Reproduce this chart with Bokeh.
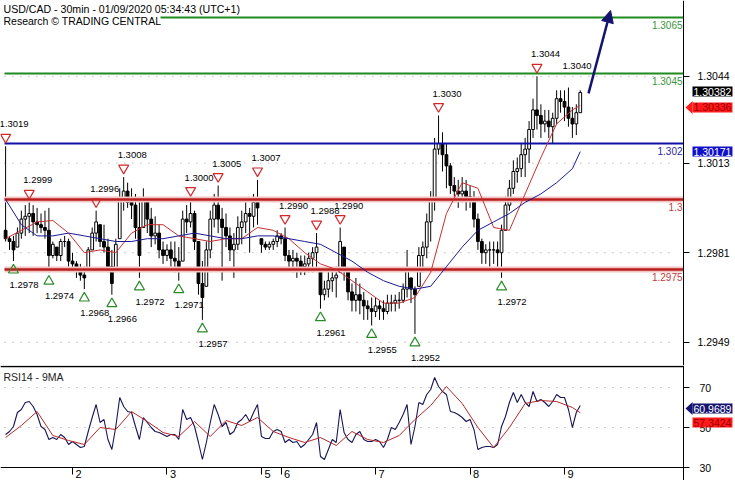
from bokeh.plotting import figure
from bokeh.layouts import column
from bokeh.models import (Range1d, FixedTicker, PrintfTickFormatter, Label, Arrow,
                          NormalHead, PolyAnnotation, ColumnDataSource, LinearAxis)
from bokeh.core.properties import value
from bokeh.embed import file_html
from bokeh.resources import INLINE

FONT = "Liberation Sans"

# ---------------- data (hourly bars) ----------------
first_open = 1.2989
highs = [
    1.3019, 1.2987, 1.2987, 1.2990, 1.2996, 1.2998, 1.2999, 1.2998, 1.2997, 1.2995,
    1.2996, 1.2997, 1.2985, 1.2983, 1.2986, 1.2987, 1.2986, 1.2981, 1.2978, 1.2977,
    1.2976, 1.2983, 1.2990, 1.2996, 1.2991, 1.2991, 1.2986, 1.2982, 1.2986, 1.3004,
    1.3008, 1.3006, 1.3004, 1.3002, 1.2999, 1.3004, 1.3000, 1.2997, 1.2994, 1.2991,
    1.2985, 1.2984, 1.2985, 1.2985, 1.2983, 1.2996, 1.2998, 1.3000, 1.2996, 1.2985,
    1.2978, 1.2985, 1.2996, 1.3002, 1.3005, 1.2997, 1.2995, 1.2990, 1.2988, 1.2994,
    1.2996, 1.2999, 1.2997, 1.3002, 1.3007, 1.2986, 1.2985, 1.2985, 1.2986, 1.2989,
    1.2988, 1.2990, 1.2982, 1.2982, 1.2981, 1.2980, 1.2980, 1.2981, 1.2983, 1.2988,
    1.2975, 1.2971, 1.2975, 1.2975, 1.2976, 1.2990, 1.2983, 1.2975, 1.2970, 1.2972,
    1.2970, 1.2967, 1.2964, 1.2965, 1.2965, 1.2964, 1.2964, 1.2966, 1.2966, 1.2966,
    1.2967, 1.2970, 1.2982, 1.2972, 1.2969, 1.2983, 1.2985, 1.2995, 1.3003, 1.3022,
    1.3030, 1.3024, 1.3020, 1.3013, 1.3008, 1.3007, 1.3008, 1.3007, 1.3005, 1.3003,
    1.2995, 1.2986, 1.2984, 1.2985, 1.2985, 1.2985, 1.2991, 1.3001, 1.3007, 1.3014,
    1.3015, 1.3020, 1.3022, 1.3028, 1.3036, 1.3044, 1.3034, 1.3032, 1.3032, 1.3031,
    1.3039, 1.3039, 1.3039, 1.3040, 1.3033, 1.3034, 1.3039,
]
lows = [
    1.2985, 1.2982, 1.2978, 1.2983, 1.2986, 1.2987, 1.2988, 1.2987, 1.2988, 1.2988,
    1.2986, 1.2974, 1.2979, 1.2978, 1.2978, 1.2983, 1.2976, 1.2975, 1.2972, 1.2971,
    1.2968, 1.2975, 1.2982, 1.2985, 1.2983, 1.2981, 1.2974, 1.2966, 1.2975, 1.2986,
    1.2996, 1.2997, 1.2993, 1.2986, 1.2972, 1.2990, 1.2988, 1.2983, 1.2984, 1.2979,
    1.2977, 1.2978, 1.2976, 1.2974, 1.2971, 1.2978, 1.2988, 1.2990, 1.2982, 1.2966,
    1.2957, 1.2969, 1.2979, 1.2990, 1.2988, 1.2971, 1.2983, 1.2978, 1.2972, 1.2982,
    1.2984, 1.2988, 1.2981, 1.2990, 1.2991, 1.2981, 1.2982, 1.2982, 1.2982, 1.2983,
    1.2984, 1.2978, 1.2975, 1.2974, 1.2972, 1.2973, 1.2973, 1.2974, 1.2974, 1.2975,
    1.2961, 1.2964, 1.2965, 1.2967, 1.2965, 1.2974, 1.2971, 1.2964, 1.2960, 1.2960,
    1.2959, 1.2957, 1.2957, 1.2955, 1.2958, 1.2957, 1.2957, 1.2959, 1.2960, 1.2960,
    1.2961, 1.2963, 1.2965, 1.2963, 1.2952, 1.2969, 1.2974, 1.2979, 1.2985, 1.2996,
    1.3016, 1.3010, 1.3004, 1.3002, 1.2999, 1.2997, 1.2999, 1.2996, 1.2997, 1.2990,
    1.2982, 1.2977, 1.2977, 1.2976, 1.2977, 1.2976, 1.2972, 1.2989, 1.2996, 1.3002,
    1.3006, 1.3008, 1.3008, 1.3013, 1.3022, 1.3025, 1.3022, 1.3024, 1.3022, 1.3020,
    1.3027, 1.3031, 1.3028, 1.3026, 1.3022, 1.3023, 1.3031,
]
closes = [
    1.2986, 1.2985, 1.2982, 1.2988, 1.2993, 1.2994, 1.2995, 1.2992, 1.2991, 1.2990,
    1.2989, 1.2980, 1.2984, 1.2980, 1.2985, 1.2985, 1.2978, 1.2977, 1.2975, 1.2973,
    1.2972, 1.2982, 1.2988, 1.2992, 1.2985, 1.2983, 1.2976, 1.2970, 1.2984, 1.3000,
    1.3003, 1.2999, 1.2998, 1.2990, 1.2980, 1.3000, 1.2993, 1.2987, 1.2988, 1.2982,
    1.2980, 1.2982, 1.2979, 1.2978, 1.2976, 1.2993, 1.2992, 1.2995, 1.2985, 1.2970,
    1.2965, 1.2982, 1.2993, 1.2998, 1.2993, 1.2990, 1.2987, 1.2982, 1.2984, 1.2990,
    1.2992, 1.2995, 1.2994, 1.2999, 1.2997, 1.2984, 1.2983, 1.2984, 1.2985, 1.2987,
    1.2986, 1.2980, 1.2978, 1.2979, 1.2978, 1.2976, 1.2977, 1.2979, 1.2981, 1.2983,
    1.2966, 1.2968, 1.2971, 1.2972, 1.2973, 1.2985, 1.2975, 1.2967, 1.2964, 1.2966,
    1.2964, 1.2962, 1.2961, 1.2960, 1.2962, 1.2961, 1.2960, 1.2963, 1.2963, 1.2964,
    1.2964, 1.2968, 1.2975, 1.2968, 1.2966, 1.2980, 1.2983, 1.2992, 1.3000, 1.3018,
    1.3020, 1.3016, 1.3012, 1.3005, 1.3003, 1.3002, 1.3003, 1.3001, 1.3000, 1.2993,
    1.2985, 1.2981, 1.2982, 1.2982, 1.2982, 1.2981, 1.2989, 1.2998, 1.3004, 1.3010,
    1.3011, 1.3016, 1.3018, 1.3025, 1.3032, 1.3030, 1.3027, 1.3028, 1.3026, 1.3029,
    1.3036, 1.3035, 1.3033, 1.3029, 1.3027, 1.3031, 1.30382,
]
rsi = [
    46.5, 48, 50.5, 57.5, 59, 62.5, 63, 60.5, 56.5, 50.5,
    49, 44, 45, 44, 46.5, 45, 41.5, 43, 41.5, 40,
    40.5, 48, 55, 61.5, 52.5, 54, 44, 39, 50.5, 65,
    60.5, 58, 57.5, 50.5, 44, 55, 52.5, 50, 48, 47.5,
    46.5, 45.5, 46.5, 46.5, 44, 59, 54, 55, 50.5, 42.5,
    34, 42.5, 52.5, 61.5, 56.5, 50.5, 52.5, 46.5, 48, 52.5,
    54, 56.5, 53, 57.5, 61.5, 45.5, 44.5, 44.5, 48, 49,
    48, 42.5, 44, 42.5, 43, 40, 41.5, 44, 46.5, 52.5,
    35.5, 34, 39, 44, 42.5, 59, 47.5, 44, 42.5, 46.5,
    48, 44, 43, 43, 44, 43, 40, 44, 50, 49,
    52.5, 56.5, 61.5, 41.5, 50.5, 62.5, 61.5, 66.5, 69, 75,
    70.5, 68, 66.5, 58, 57.5, 56.5, 55, 53, 54, 49,
    39, 40, 40.5, 40.5, 40, 41.5, 50.5, 55.5, 62.5, 67.5,
    62.5, 66.5, 62.5, 60.5, 68, 63, 64, 62.5, 60.5, 63,
    66.5, 65, 65, 59, 50, 57.5, 60.9689,
]
ma_bars = [0, 4, 8, 12, 16, 20, 24, 28, 32, 36, 40, 44, 48, 52, 56, 60, 64, 68, 72,
           76, 80, 84, 88, 92, 96, 100, 104, 108, 112, 116, 120, 124, 128, 132, 136,
           140, 144, 146]
ma_fast = [1.2986, 1.2989, 1.2992, 1.29925, 1.2988, 1.2981, 1.2982, 1.2981, 1.2988,
           1.2991, 1.2991, 1.2987, 1.2986, 1.2985, 1.2986, 1.2986, 1.2990, 1.2989,
           1.2986, 1.2981, 1.2977, 1.2975, 1.2971, 1.2967, 1.2963, 1.2963, 1.2965,
           1.2974, 1.2995, 1.3006, 1.3004, 1.2990, 1.2989, 1.3002, 1.3015, 1.3027,
           1.3032, 1.30336]
ma_slow = [1.3000, 1.2991, 1.2987, 1.2987, 1.2988, 1.2987, 1.2986, 1.2985, 1.2985,
           1.2986, 1.2986, 1.2987, 1.2988, 1.2987, 1.2986, 1.2986, 1.2987, 1.2987,
           1.2986, 1.2985, 1.2984, 1.2981, 1.2978, 1.2974, 1.2971, 1.2969, 1.2968,
           1.2969, 1.2976, 1.2983, 1.2989, 1.2992, 1.2995, 1.2999, 1.3002, 1.3006,
           1.3011, 1.30171]
rsi_ma = [45, 51, 58, 46, 43.5, 41.5, 50, 49, 58, 53, 47.5, 45.5, 53, 45.5, 53.5, 51,
          55, 48, 45, 42.5, 45, 41, 48, 44, 42.5, 46, 54, 61, 70.5, 62, 50, 40, 50,
          62, 63.5, 63, 60, 57.3424]

level_prices = [1.3065, 1.3045, 1.302, 1.3, 1.2975]
level_texts = ["1.3065", "1.3045", "1.302", "1.3", "1.2975"]
level_kinds = ["green", "green", "blue", "red", "red"]

peak_bars = [0, 6, 23, 30, 47, 54, 64, 71, 79, 85, 110, 135]
trough_bars = [2, 11, 20, 27, 34, 44, 50, 80, 93, 104, 126]
open_peak_bar = 143

arrow_x = [148.1, 153.7]
arrow_y = [1.30379, 1.30675]

price_ticks = [1.2949, 1.2981, 1.3013, 1.3044]
rsi_ticks = [30, 50, 70]
rsi_grid = [50, 70]
day_ticks = [17, 41, 65, 70, 94, 118, 142]
day_labels = ["2", "3", "5", "6", "7", "8", "9"]

title_text = "USD/CAD - 30min - 01/09/2020 05:34:43 (UTC+1)"
research_text = "Research \u00a9 TRADING CENTRAL"
rsi_title = "RSI14 - 9MA"

# ---------------- geometry (canvas = 735 x 480) ----------------
W = 735
PH, RH = 365, 115
ppb = 3.936                      # px per hourly bar
X0 = -5.1 / ppb
X_END = X0 + W / ppb
X_AX = X0 + 683 / ppb            # where the price scale sits
ppp = 28000.0                    # px per price unit
P1 = 1.3 + 199 / ppp
P0 = P1 - PH / ppp
ppr = 2.0                        # px per RSI unit
R_AX = 30.0                      # RSI value on the time axis line
R1 = R_AX + 102 / ppr
R0 = R1 - RH / ppr

NAVY = "#14146e"
COL = {"green": "#1e8c1e", "blue": "#1010a8", "red": "#b81e1e"}
TXT = {"green": "#3a963a", "blue": "#2a2aa0", "red": "#c23a3a"}
GRID = "#9a9a9a"


def base_fig(h, yr, xr):
    f = figure(frame_width=W, frame_height=h, x_range=xr, y_range=yr,
               output_backend="svg", toolbar_location=None,
               x_axis_location=None, y_axis_location=None,
               min_border_left=0, min_border_right=0, min_border_top=0,
               min_border_bottom=0)
    f.outline_line_color = None
    f.grid.visible = False
    return f


def style_axis(a, size):
    a.axis_line_color = "black"
    a.major_tick_in = 0
    a.minor_tick_out = 0
    a.minor_tick_in = 0
    a.major_label_text_font = FONT
    a.major_label_text_font_size = size
    a.major_label_text_color = "black"


p = base_fig(PH, Range1d(P0, P1), Range1d(X0, X_END))
ax = LinearAxis(fixed_location=X_AX, ticker=FixedTicker(ticks=price_ticks),
                formatter=PrintfTickFormatter(format="%.4f"))
style_axis(ax, "10.5px")
ax.major_tick_out = 6
ax.major_label_standoff = 8
p.add_layout(ax, "right")

# dotted grid up to the price scale
p.segment(x0=[X0 + 1] * len(price_ticks), y0=price_ticks, x1=[X_AX - 2] * len(price_ticks),
          y1=price_ticks, line_color=GRID, line_dash="1 7", line_width=1)

# candles
opens = []
prev = first_open
for h, l, c in zip(highs, lows, closes):
    opens.append(min(max(prev, l), h))
    prev = c
bars = list(range(len(closes)))
src = ColumnDataSource(dict(
    x=bars, h=highs, l=lows,
    top=[max(o, c) for o, c in zip(opens, closes)],
    bottom=[min(o, c) for o, c in zip(opens, closes)],
    fill=["white" if c >= o else "black" for o, c in zip(opens, closes)],
))
p.segment(x0="x", y0="l", x1="x", y1="h", source=src, line_color="black", line_width=1)
p.vbar(x="x", width=0.7, top="top", bottom="bottom", source=src,
       fill_color="fill", line_color="black", line_width=1)

# horizontal levels
for lv, kind in zip(level_prices, level_kinds):
    x_start = X0 + (160 / ppb if lv == max(level_prices) else 4 / ppb)
    if kind == "red":
        p.segment(x0=[x_start], y0=[lv], x1=[X_AX], y1=[lv], line_color="#f3c4c4", line_width=6)
        p.segment(x0=[x_start], y0=[lv], x1=[X_AX], y1=[lv], line_color=COL[kind], line_width=2.5)
    else:
        p.segment(x0=[x_start], y0=[lv], x1=[X_AX], y1=[lv], line_color=COL[kind], line_width=2)
p.text(x=[X_AX] * len(level_prices), y=level_prices, text=level_texts,
       text_color=[TXT[k] for k in level_kinds], text_align="right", text_baseline="top",
       x_offset=-1, y_offset=3, text_font=value(FONT), text_font_size="10px")

# moving averages
p.line(ma_bars, ma_fast, line_color="#c83030", line_width=1)
p.line(ma_bars, ma_slow, line_color="#1a1a96", line_width=1)

# peaks / troughs
pk_y = [highs[b] for b in peak_bars]
p.scatter(peak_bars, [y + 9 / ppp for y in pk_y], marker="inverted_triangle", size=10,
          line_color="#d02828", fill_color=None, line_width=1.2)
p.text(x=peak_bars + [open_peak_bar], y=pk_y + [highs[open_peak_bar]],
       text=[f"{y:.4f}" for y in pk_y + [highs[open_peak_bar]]],
       text_align="left", text_baseline="middle", x_offset=-6, y_offset=-22,
       text_font=value(FONT), text_font_size="9.5px", text_color="black")
tr_y = [lows[b] for b in trough_bars]
p.scatter(trough_bars, [y - 9 / ppp for y in tr_y], marker="triangle", size=10,
          line_color="#2a8a2a", fill_color=None, line_width=1.2)
p.text(x=trough_bars, y=tr_y, text=[f"{y:.4f}" for y in tr_y],
       text_align="left", text_baseline="middle", x_offset=-4, y_offset=24,
       text_font=value(FONT), text_font_size="9.5px", text_color="black")

# forecast arrow
p.add_layout(Arrow(end=NormalHead(size=12, fill_color=NAVY, line_color=NAVY),
                   x_start=arrow_x[0], y_start=arrow_y[0], x_end=arrow_x[1], y_end=arrow_y[1],
                   line_color=NAVY, line_width=2.5))

# header texts
p.text(x=[X0], y=[P1], text=[title_text], x_offset=3, y_offset=2, text_baseline="top",
       text_font=value(FONT), text_font_size="10.6px", text_color="black")
p.text(x=[X0], y=[P1], text=[research_text], x_offset=3, y_offset=14, text_baseline="top",
       text_font=value(FONT), text_font_size="10.5px", text_color="black")


def axis_box(fig, y, text, bg, fg, unit_px, pointer):
    fig.add_layout(Label(x=X_AX, y=y, text=text, x_offset=9, text_baseline="middle",
                         text_align="left", text_font=FONT, text_font_size="10.5px",
                         text_color=fg, background_fill_color=bg, padding=1))
    if pointer:
        h = 6.5 / unit_px
        fig.add_layout(PolyAnnotation(xs=[X_AX + 2 / ppb, X_AX + 9 / ppb, X_AX + 9 / ppb],
                                      ys=[y, y + h, y - h], fill_color=bg, fill_alpha=1,
                                      line_color=None))


axis_box(p, closes[-1] + 1 / ppp, f"{closes[-1]:.5f}", "black", "white", ppp, False)
axis_box(p, ma_fast[-1] - 2 / ppp, f"{ma_fast[-1]:.5f}", "#ff1a1a", "#9a0000", ppp, True)
axis_box(p, ma_slow[-1], f"{ma_slow[-1]:.5f}", "#1010c8", "white", ppp, False)

# ---------------- RSI panel ----------------
p2 = base_fig(RH, Range1d(R0, R1), p.x_range)
ay = LinearAxis(fixed_location=X_AX, ticker=FixedTicker(ticks=rsi_ticks))
style_axis(ay, "10.5px")
ay.major_tick_out = 6
ay.major_label_standoff = 10
p2.add_layout(ay, "right")

# time axis: day boundaries as (minor) tick marks, day numbers just right of them
lbl_shift = 6 / ppb
axx = LinearAxis(fixed_location=R_AX,
                 ticker=FixedTicker(ticks=[t + lbl_shift for t in day_ticks],
                                    minor_ticks=day_ticks),
                 bounds=(X0, X_AX))
style_axis(axx, "11px")
axx.major_tick_out = 0
axx.minor_tick_out = 7
axx.minor_tick_line_color = "black"
axx.major_label_standoff = -5
axx.major_label_overrides = {t + lbl_shift: s for t, s in zip(day_ticks, day_labels)}
p2.add_layout(axx, "below")

# panel separator and dotted grid
p2.segment(x0=[X0], y0=[R1 - 1 / ppr], x1=[X_AX], y1=[R1 - 1 / ppr], line_color="black",
           line_width=1.5)
p2.segment(x0=[X0 + 1] * len(rsi_grid), y0=rsi_grid, x1=[X_AX - 2] * len(rsi_grid),
           y1=rsi_grid, line_color=GRID, line_dash="1 7", line_width=1)

p2.line(bars, rsi, line_color="#161656", line_width=1.1)
p2.line(ma_bars, rsi_ma, line_color="#b42828", line_width=1)
p2.text(x=[X0], y=[R1], text=[rsi_title], x_offset=3, y_offset=5, text_baseline="top",
        text_font=value(FONT), text_font_size="10.5px", text_color="#222222")

axis_box(p2, rsi[-1] - 3 / ppr, f"{rsi[-1]:.4f}", NAVY, "white", ppr, True)
axis_box(p2, rsi[-1] - 17 / ppr, f"{rsi_ma[-1]:.4f}", "#ff1a1a", "#9a0000", ppr, False)

layout = column(p, p2, spacing=0)
open("out.html", "w").write(file_html(layout, INLINE))
